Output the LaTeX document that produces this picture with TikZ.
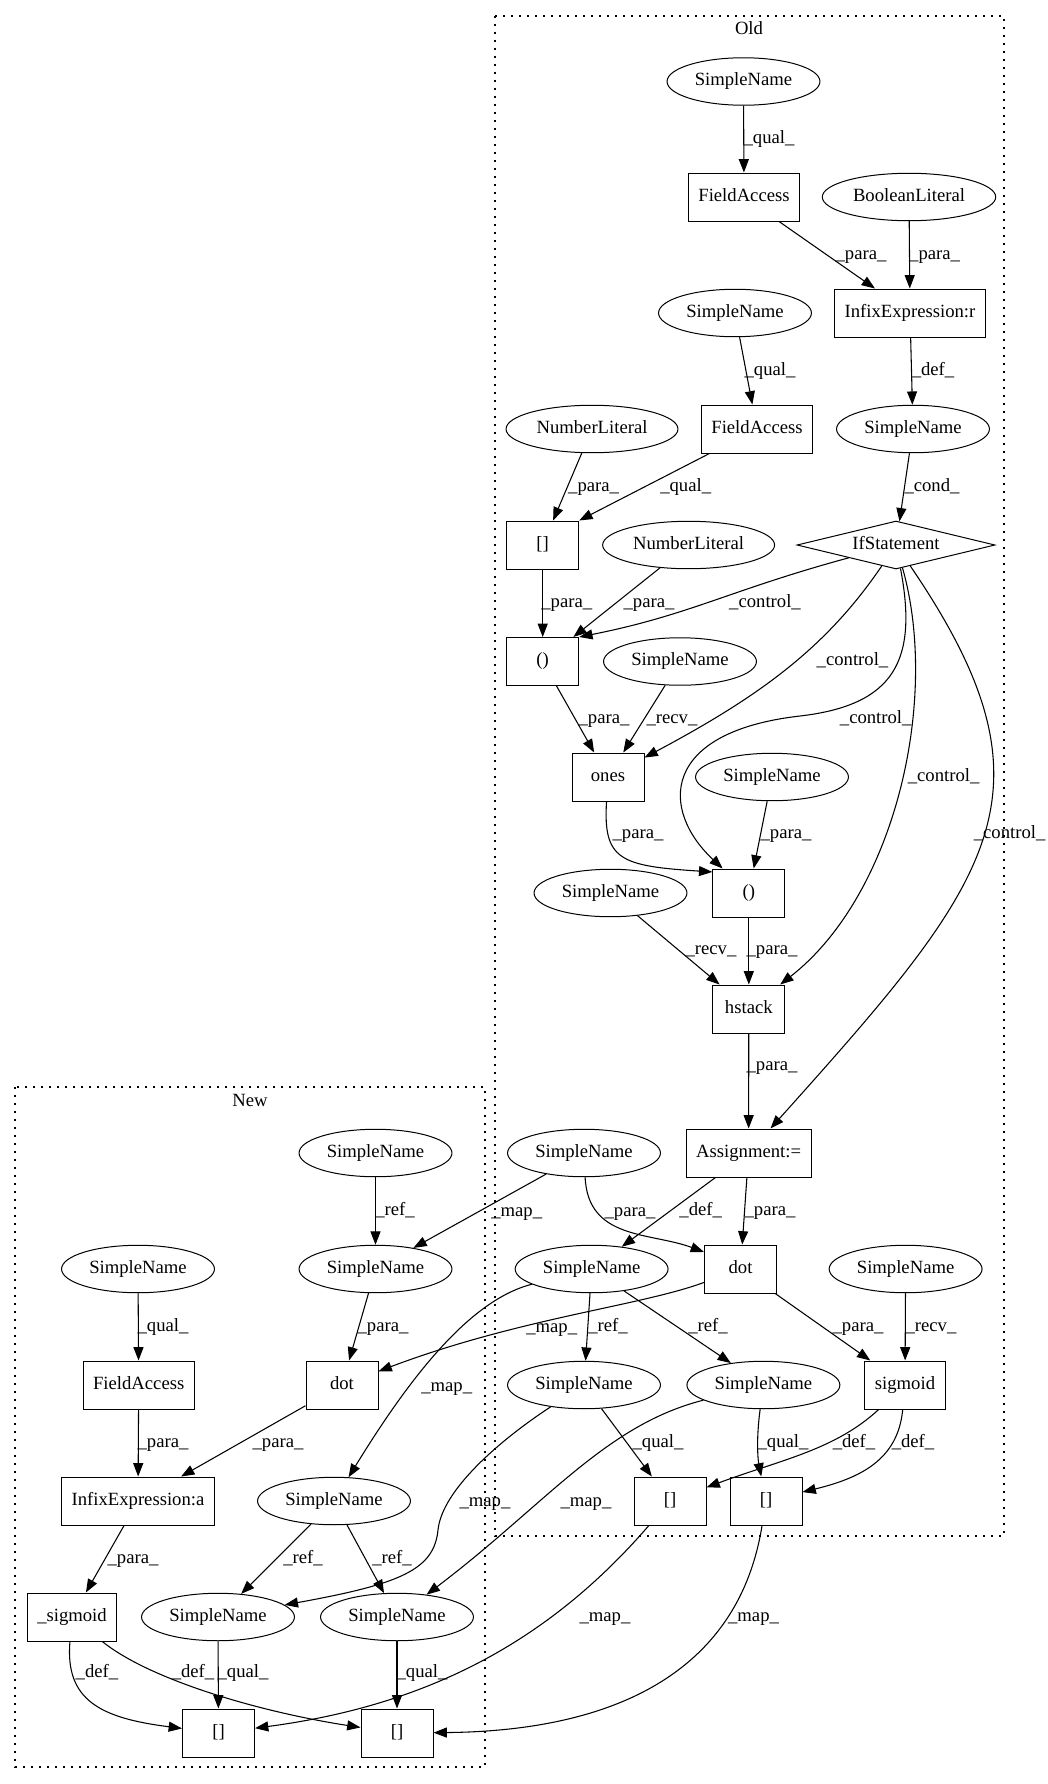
\documentclass[tikz,border=0pt]{standalone}
\usepackage{fontspec}
\setmainfont{Liberation Serif}
\usetikzlibrary{arrows.meta, shapes.geometric}

\begin{document}
\begin{tikzpicture}[
  x=0.75pt, y=-0.75pt,
  every node/.style={font=\fontsize{14pt}{16pt}\selectfont, text height=9.5pt, text depth=3pt},
  sname/.style={ellipse, draw, line width=0.75pt, minimum width=54pt, minimum height=35.6pt,
                inner xsep=4pt, inner ysep=2pt},
  box/.style={rectangle, draw, line width=0.75pt, minimum width=54pt, minimum height=36pt,
              inner xsep=7.5pt},
  cond/.style={diamond, draw, line width=0.75pt, aspect=4.1, minimum width=148.5pt,
               minimum height=36pt, inner sep=0pt},
  arr/.style={-{Triangle[length=10pt, width=7.5pt]}, line width=0.8pt},
  lbl/.style={inner sep=0pt},
  cluster/.style={line width=1pt, dash pattern=on 1.2pt off 4.8pt}
]
  \useasboundingbox (0,0) rectangle (1048,1784);

  \draw[cluster] (495,16) rectangle (1004,1536);
  \draw[cluster] (15,1087) rectangle (485,1767);
  \node (old) at (749,30) {Old};
  \node (new) at (250,1102) {New};

  \node[sname] (sn1)  at (743.5,81.5) {SimpleName};
  \node[box]   (fa1)  at (744,197)    {FieldAccess};
  \node[sname] (bl)   at (909,197)    {BooleanLiteral};
  \node[box]   (infr) at (910,313)    {InfixExpression:r};
  \node[sname] (sn2)  at (735,313)    {SimpleName};
  \node[box]   (fa2)  at (757,429)    {FieldAccess};
  \node[sname] (sn3)  at (913,429)    {SimpleName};
  \node[sname] (nl1)  at (592,429)    {NumberLiteral};
  \node[box]   (sq1)  at (542.7,545)  {[]};
  \node[sname] (nl2)  at (688.6,545)  {NumberLiteral};
  \node[cond]  (ifs)  at (896,545)    {IfStatement};
  \node[box]   (par1) at (542.7,661.5) {()};
  \node[sname] (sn4)  at (680,661.5)  {SimpleName};
  \node[box]   (ones) at (608,777)    {ones};
  \node[sname] (sn5)  at (772,777)    {SimpleName};
  \node[box]   (par2) at (748.8,893)  {()};
  \node[sname] (sn6)  at (610.5,893)  {SimpleName};
  \node[box]   (hst)  at (748.8,1009) {hstack};
  \node[box]   (asg)  at (748.6,1153) {Assignment:=};
  \node[sname] (sn7)  at (584,1153)   {SimpleName};
  \node[box]   (dot1) at (740.5,1269) {dot};
  \node[sname] (sn8)  at (591.6,1269) {SimpleName};
  \node[sname] (sn9)  at (905.6,1269) {SimpleName};
  \node[sname] (sn10) at (584,1385)   {SimpleName};
  \node[sname] (sn11) at (763.4,1385) {SimpleName};
  \node[box]   (sig)  at (905,1385)   {sigmoid};
  \node[box]   (sq2)  at (670,1501)   {[]};
  \node[box]   (sq3)  at (766,1501)   {[]};

  \node[sname] (nsn1) at (375.5,1153) {SimpleName};
  \node[sname] (nsn2) at (375.5,1269) {SimpleName};
  \node[sname] (nsn3) at (138,1269)   {SimpleName};
  \node[box]   (nfa)  at (138.7,1385) {FieldAccess};
  \node[box]   (ndot) at (342,1385)   {dot};
  \node[box]   (ninf) at (138,1501)   {InfixExpression:a};
  \node[sname] (nsn4) at (334,1501)   {SimpleName};
  \node[box]   (nsig) at (72,1617)    {\_sigmoid};
  \node[sname] (nsn5) at (218,1617)   {SimpleName};
  \node[sname] (nsn6) at (397,1617)   {SimpleName};
  \node[box]   (nsq1) at (218.5,1733) {[]};
  \node[box]   (nsq2) at (397,1733)   {[]};

  \draw[arr] (sn1) -- (fa1) node[lbl] (l1) at (769,139) {\_qual\_};
  \draw[arr] (fa1) -- (infr) node[lbl] (l2) at (861,255) {\_para\_};
  \draw[arr] (bl) -- (infr) node[lbl] (l3) at (934.6,255) {\_para\_};
  \draw[arr] (sn2) -- (fa2) node[lbl] (l4) at (770,371) {\_qual\_};
  \draw[arr] (infr) -- (sn3) node[lbl] (l5) at (933,371) {\_def\_};
  \draw[arr] (nl1) -- (sq1) node[lbl] (l6) at (593.6,487) {\_para\_};
  \draw[arr] (fa2) -- (sq1.north east) node[lbl] (l7) at (685.7,487) {\_qual\_};
  \draw[arr] (sn3) -- (ifs) node[lbl] (l8) at (932,487) {\_cond\_};
  \draw[arr] (sq1) -- (par1) node[lbl] (l9) at (566.8,603) {\_para\_};
  \draw[arr] (nl2) -- (par1) node[lbl] (l10) at (649,603) {\_para\_};
  \draw[arr] (ifs) .. controls (730,590) and (690,615) .. (par1.north east)
    node[lbl] (l11) at (765,603) {\_control\_};
  \draw[arr] (ifs) .. controls (826,648) and (760,696) .. (ones)
    node[lbl] (l12) at (852.5,661) {\_control\_};
  \draw[arr] (par1) -- (ones) node[lbl] (l13) at (604,719) {\_para\_};
  \draw[arr] (sn4) -- (ones) node[lbl] (l14) at (672,719) {\_recv\_};
  \draw[arr] (ifs) .. controls (918,660) and (895,705) .. (800,716)
    .. controls (660,732) and (660,810) .. (par2)
    node[lbl] (l15) at (875.7,719) {\_control\_};
  \draw[arr] (ones) .. controls (603,860) and (620,866) .. (par2.150)
    node[lbl] (l16) at (638,834) {\_para\_};
  \draw[arr] (sn5) -- (par2) node[lbl] (l17) at (786,834) {\_para\_};
  \draw[arr] (ifs) .. controls (940,700) and (895,895) .. (hst)
    node[lbl] (l18) at (943.6,777) {\_control\_};
  \draw[arr] (ifs) .. controls (1065,793) and (995,878) .. (asg)
    node[lbl] (l19) at (1009.6,834) {\_control\_};
  \draw[arr] (sn6) -- (hst) node[lbl] (l20) at (711,950) {\_recv\_};
  \draw[arr] (par2) -- (hst) node[lbl] (l21) at (772,950) {\_para\_};
  \draw[arr] (hst) -- (asg) node[lbl] (l22) at (772,1066) {\_para\_};
  \draw[arr] (sn7) .. controls (588,1240) and (650,1232) .. (dot1.155)
    node[lbl] (l23) at (630,1211.7) {\_para\_};
  \draw[arr] (asg) -- (sn8) node[lbl] (l24) at (700.7,1211) {\_def\_};
  \draw[arr] (asg) -- (dot1) node[lbl] (l25) at (770,1211) {\_para\_};
  \draw[arr] (sn8) -- (sn10) node[lbl] (l26) at (608,1327) {\_ref\_};
  \draw[arr] (sn8) -- (sn11) node[lbl] (l27) at (708,1327) {\_ref\_};
  \draw[arr] (dot1) -- (sig) node[lbl] (l28) at (858,1327) {\_para\_};
  \draw[arr] (sn9) -- (sig) node[lbl] (l29) at (931,1327) {\_recv\_};
  \draw[arr] (sn10) -- (sq2) node[lbl] (l30) at (658,1443) {\_qual\_};
  \draw[arr] (sn11) .. controls (756,1440) and (758,1460) .. (sq3)
    node[lbl] (l31) at (783,1443) {\_qual\_};
  \draw[arr] (sig) .. controls (835,1450) and (780,1460) .. (sq2)
    node[lbl] (l32) at (854,1443) {\_def\_};
  \draw[arr] (sig) .. controls (898,1460) and (860,1478) .. (sq3)
    node[lbl] (l33) at (913,1443) {\_def\_};

  \draw[arr] (sn7) -- (nsn2) node[lbl] (l34) at (516.7,1211.7) {\_map\_};
  \draw[arr] (dot1) .. controls (640,1306) and (520,1318) .. (ndot)
    node[lbl] (l35) at (551.7,1328) {\_map\_};
  \draw[arr] (sn8) .. controls (470,1300) and (410,1377) .. (nsn4)
    node[lbl] (l36) at (446.7,1386.7) {\_map\_};
  \draw[arr] (sn10) .. controls (500,1440) and (442,1490) .. (438,1530)
    .. controls (434,1570) and (400,1584) .. (nsn5)
    node[lbl] (l37) at (485,1501.7) {\_map\_};
  \draw[arr] (sn11) .. controls (605,1425) and (545,1505) .. (nsn6)
    node[lbl] (l38) at (586,1501.7) {\_map\_};
  \draw[arr] (sq2) .. controls (550,1640) and (430,1705) .. (nsq1)
    node[lbl] (l39) at (605,1617) {\_map\_};
  \draw[arr] (sq3) .. controls (738,1675) and (610,1731) .. (nsq2)
    node[lbl] (l40) at (753.5,1617) {\_map\_};

  \draw[arr] (nsn1) -- (nsn2) node[lbl] (l41) at (395,1211) {\_ref\_};
  \draw[arr] (nsn3) -- (nfa) node[lbl] (l42) at (163,1327) {\_qual\_};
  \draw[arr] (nsn2) -- (ndot) node[lbl] (l43) at (383,1327) {\_para\_};
  \draw[arr] (nfa) -- (ninf) node[lbl] (l44) at (163,1443) {\_para\_};
  \draw[arr] (ndot) -- (ninf) node[lbl] (l45) at (278,1443) {\_para\_};
  \draw[arr] (ninf) -- (nsig) node[lbl] (l46) at (133,1559.5) {\_para\_};
  \draw[arr] (nsn4) -- (nsn5) node[lbl] (l47) at (303,1559.5) {\_ref\_};
  \draw[arr] (nsn4) -- (nsn6) node[lbl] (l48) at (392,1559.5) {\_ref\_};
  \draw[arr] (nsig) .. controls (65,1700) and (100,1718) .. (nsq1)
    node[lbl] (l49) at (97,1673.6) {\_def\_};
  \draw[arr] (nsig) .. controls (150,1680) and (260,1712) .. (nsq2)
    node[lbl] (l50) at (193,1673.6) {\_def\_};
  \draw[arr] (nsn5) -- (nsq1) node[lbl] (l51) at (243,1673.6) {\_qual\_};
  \draw[arr] (nsn6) -- (nsq2) node[lbl] (l52) at (422,1673.6) {\_qual\_};
\end{tikzpicture}
\end{document}
